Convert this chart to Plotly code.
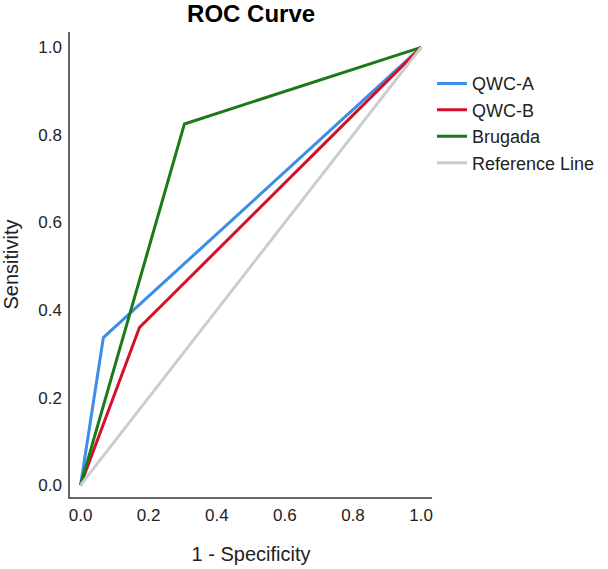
import plotly.graph_objects as go

series_names = ["QWC-A", "QWC-B", "Brugada", "Reference Line"]
fpr_values = [
    [0.0, 0.067, 1.0],
    [0.0, 0.173, 1.0],
    [0.0, 0.305, 1.0],
    [0.0, 1.0],
]
tpr_values = [
    [0.0, 0.337, 1.0],
    [0.0, 0.36, 1.0],
    [0.0, 0.825, 1.0],
    [0.0, 1.0],
]
colors = ["#3b8ee6", "#d4112b", "#1a7a1a", "#cccccc"]
tick_vals = [0.0, 0.2, 0.4, 0.6, 0.8, 1.0]
tick_text = ["0.0", "0.2", "0.4", "0.6", "0.8", "1.0"]

fig = go.Figure()
for name, xs, ys, c in zip(series_names, fpr_values, tpr_values, colors):
    fig.add_trace(go.Scatter(x=xs, y=ys, mode="lines", name=name,
                             line=dict(color=c, width=3)))

font_family = "Liberation Sans, Arial, sans-serif"
fig.update_layout(
    width=608, height=569,
    paper_bgcolor="white", plot_bgcolor="white",
    margin=dict(l=70, r=176, t=32, b=72, autoexpand=False),
    title=dict(text="<b>ROC Curve</b>", x=0.413, xanchor="center", y=1 - 14 / 569, yanchor="middle",
               font=dict(family=font_family, size=24, color="black")),
    font=dict(family=font_family, color="#222222"),
    showlegend=True,
    legend=dict(x=1.0, y=0.9285, xanchor="left", yanchor="top",
                font=dict(family=font_family, size=18, color="#222222"),
                tracegroupgap=0, itemwidth=30, bgcolor="rgba(0,0,0,0)"),
    xaxis=dict(range=[-0.031, 1.032], tickvals=tick_vals, ticktext=tick_text, automargin=False,
               showgrid=False, zeroline=False, showline=True, linecolor="#666666", linewidth=1.5,
               ticks="", ticklabelstandoff=2, tickfont=dict(size=17, color="#222222"),
               title=dict(text="1 - Specificity", font=dict(size=20, color="#222222"), standoff=23)),
    yaxis=dict(range=[-0.027, 1.035], tickvals=tick_vals, ticktext=tick_text, automargin=False,
               showgrid=False, zeroline=False, showline=True, linecolor="#666666", linewidth=1.5,
               ticks="", ticklabelstandoff=3, tickfont=dict(size=17, color="#222222"),
               title=dict(text="Sensitivity", font=dict(size=20, color="#222222"), standoff=14)),
)

fig.write_html("out.html", config={"displayModeBar": False},
               post_script="document.body.style.margin='0';")
